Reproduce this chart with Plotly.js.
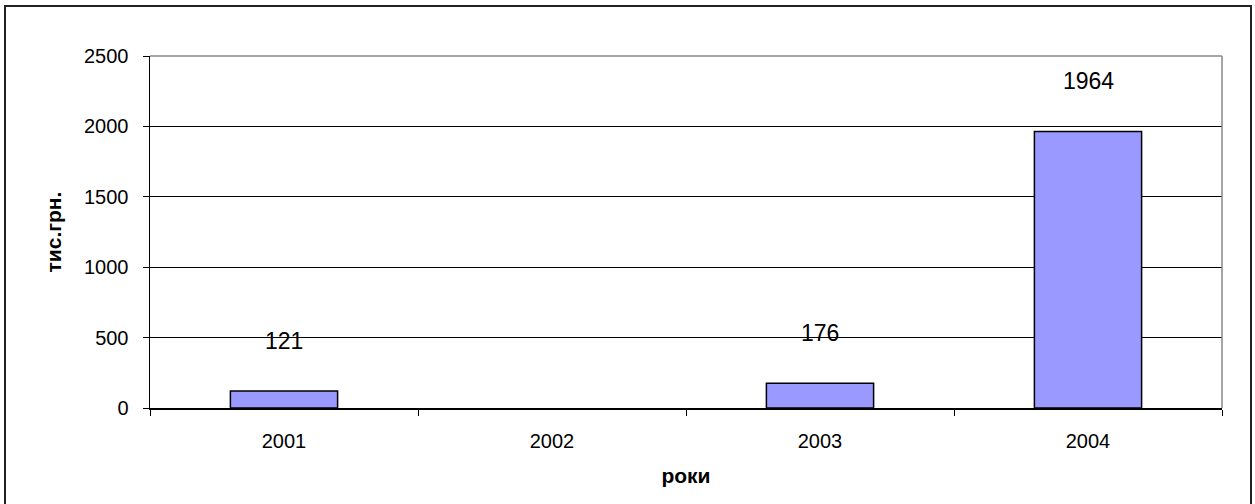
<!DOCTYPE html>
<html>
<head>
<meta charset="utf-8">
<script src="https://cdn.plot.ly/plotly-3.0.1.min.js"></script>
<style>
  html, body { margin: 0; padding: 0; background: #fff; }
  #chart { width: 1255px; height: 504px; }
</style>
</head>
<body>
<div id="chart"></div>
<script>
const years = ['2001', '2002', '2003', '2004'];
const values = [121, null, 176, 1964];
const yTicks = [0, 500, 1000, 1500, 2000, 2500];
const xTitle = 'роки';
const yTitle = 'тис.грн.';

const font = 'Liberation Sans, Arial, sans-serif';

const trace = {
  type: 'bar',
  x: years,
  y: values,
  marker: { color: '#9999FF', line: { color: '#000000', width: 1.5 } },
  hoverinfo: 'x+y'
};

const annotations = [];
years.forEach((yr, i) => {
  if (values[i] !== null && values[i] !== undefined) {
    annotations.push({
      x: i, y: values[i], xref: 'x', yref: 'y',
      text: String(values[i]), showarrow: false,
      yanchor: 'middle', yshift: 50,
      font: { family: font, size: 23, color: '#000' }
    });
  }
});

const layout = {
  width: 1255, height: 504,
  margin: { l: 150, r: 33, t: 56, b: 96 },
  paper_bgcolor: '#ffffff',
  plot_bgcolor: '#ffffff',
  showlegend: false,
  bargap: 0.6,
  font: { family: font, color: '#000' },
  xaxis: {
    type: 'category',
    categoryorder: 'array',
    categoryarray: years,
    range: [-0.5, years.length - 0.5],
    tickson: 'boundaries',
    ticks: 'outside', ticklen: 6, tickcolor: '#000', tickwidth: 1,
    showline: true, linecolor: '#000', linewidth: 1.5,
    showgrid: false, zeroline: false,
    tickangle: 0,
    tickfont: { family: font, size: 20, color: '#000' },
    ticklabelstandoff: 14,
    title: { text: '<b>' + xTitle + '</b>', font: { family: font, size: 21, color: '#000' }, standoff: 18 }
  },
  yaxis: {
    range: [0, 2500],
    tickvals: yTicks,
    ticktext: yTicks.map(String),
    ticks: 'outside', ticklen: 6, tickcolor: '#000', tickwidth: 1,
    showline: true, linecolor: '#000', linewidth: 1.5,
    showgrid: true, gridcolor: '#000', gridwidth: 1,
    zeroline: false,
    tickfont: { family: font, size: 20, color: '#000' },
    ticklabelstandoff: 10,
    title: { text: '<b>' + yTitle + '</b>', font: { family: font, size: 21, color: '#000' }, standoff: 16 }
  },
  annotations: annotations,
  shapes: [
    { type: 'line', xref: 'paper', yref: 'paper', x0: 0, x1: 1, y0: 1, y1: 1,
      line: { color: '#888', width: 1.5 } },
    { type: 'line', xref: 'paper', yref: 'paper', x0: 1, x1: 1, y0: 0, y1: 1,
      line: { color: '#888', width: 1.5 } },
    { type: 'rect', xref: 'paper', yref: 'paper',
      x0: (5 - 150) / 1072, x1: (1251 - 150) / 1072,
      y0: (408 - 520) / 352, y1: (408 - 6) / 352,
      line: { color: '#222', width: 2 } }
  ]
};

Plotly.newPlot('chart', [trace], layout, { displayModeBar: false, staticPlot: true });
</script>
</body>
</html>
